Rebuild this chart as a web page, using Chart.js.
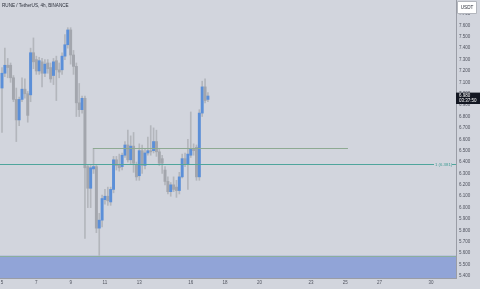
<!DOCTYPE html>
<html><head><meta charset="utf-8">
<script src="https://cdn.jsdelivr.net/npm/chart.js@4.4.1/dist/chart.umd.min.js"></script>
<style>html,body{margin:0;padding:0;background:#d2d5dd;overflow:hidden}#wrap{width:480px;height:289px;position:relative}</style>
</head><body><div id="wrap"><canvas id="c" width="480" height="289"></canvas></div>
<script>
// ---- data (RUNE / TetherUS, 4h candles starting on day 5) ----
const opens  = [7.05,7.18,7.25,7.25,7.14,6.95,6.77,6.95,7.04,7.00,6.99,7.36,7.30,7.20,7.28,7.18,7.27,7.23,7.16,7.29,7.21,7.21,7.33,7.43,7.56,7.34,7.24,6.92,6.86,6.96,6.36,6.17,6.34,6.36,5.82,5.89,6.07,6.10,6.05,6.16,6.42,6.38,6.36,6.46,6.55,6.42,6.54,6.38,6.28,6.50,6.37,6.48,6.50,6.50,6.58,6.49,6.43,6.33,6.23,6.14,6.20,6.18,6.15,6.27,6.43,6.38,6.46,6.52,6.53,6.27,6.83,7.06,6.95];
const highs  = [7.23,7.40,7.31,7.27,7.16,7.05,6.97,7.14,7.13,7.02,7.40,7.49,7.33,7.32,7.31,7.30,7.30,7.27,7.31,7.33,7.27,7.36,7.52,7.58,7.58,7.38,7.27,7.09,6.98,6.98,6.38,6.37,6.52,6.38,5.95,6.11,6.16,6.18,6.18,6.45,6.45,6.47,6.48,6.58,6.68,6.63,6.66,6.40,6.56,6.55,6.52,6.62,6.72,6.70,6.68,6.52,6.46,6.36,6.27,6.22,6.27,6.24,6.31,6.47,6.48,6.60,6.84,6.56,6.55,6.86,7.11,7.13,7.01];
const lows   = [6.66,7.15,7.14,7.10,6.93,6.58,6.72,6.93,6.96,6.75,6.93,7.22,7.17,7.17,7.06,7.15,7.18,7.10,7.08,6.94,7.14,7.17,7.30,7.40,7.26,7.17,6.80,6.80,6.83,5.73,6.00,6.00,6.30,5.78,5.58,5.83,6.03,6.02,6.02,6.13,6.33,6.32,6.33,6.44,6.40,6.38,6.31,6.24,6.24,6.30,6.34,6.46,6.46,6.48,6.45,6.37,6.30,6.20,6.12,6.10,6.14,6.09,6.12,6.26,6.36,6.16,6.44,6.46,6.24,6.24,6.80,6.92,6.93];
const closes = [7.18,7.25,7.23,7.14,6.95,6.77,6.95,7.04,7.00,6.81,7.36,7.28,7.20,7.29,7.18,7.26,7.22,7.13,7.28,7.21,7.19,7.33,7.43,7.56,7.34,7.24,6.92,6.86,6.96,6.35,6.17,6.35,6.36,5.82,5.89,6.08,6.10,6.06,6.16,6.42,6.37,6.35,6.46,6.55,6.42,6.54,6.39,6.27,6.50,6.37,6.48,6.50,6.49,6.58,6.49,6.39,6.39,6.23,6.14,6.20,6.16,6.15,6.27,6.43,6.38,6.47,6.52,6.50,6.27,6.83,7.06,6.94,6.98];
const firstDay = 5;
const candlesPerDay = 6;
const dayTicks = [5,7,9,11,13,16,18,20,23,25,27,30];
const priceTicks = [5.4,5.5,5.6,5.7,5.8,5.9,6.0,6.1,6.2,6.3,6.4,6.5,6.6,6.7,6.8,6.9,7.0,7.1,7.2,7.3,7.4,7.5,7.6,7.7];
const supportLevel = 6.381;
const resistanceLevel = 6.52;
const resistanceFrom = 10.30, resistanceTo = 25.16;
const zoneTop = 5.578;
const lastPrice = 6.980;
const countdown = '03:37:50';
const titleText = 'RUNE / TetherUS, 4h, BINANCE';
const currencyText = 'USDT';

const xMin = 4.8834, xMax = 31.457;
const yMin = 5.3822, yMax = 7.8229;

const xs = opens.map((_, i) => firstDay + i / candlesPerDay);
const up = opens.map((o, i) => closes[i] >= o);
const BLUE = '#5b8fd8', GRAY = '#a3a6ad', WICK = '#b3b6bc';

const overlay = {
  id: 'overlay',
  beforeDraw(c) {
    const ctx = c.ctx;
    ctx.save(); ctx.fillStyle = '#d2d5dd'; ctx.fillRect(0, 0, c.width, c.height); ctx.restore();
  },
  beforeDatasetsDraw(c) {
    const ctx = c.ctx, a = c.chartArea, y = c.scales.y;
    const t = y.getPixelForValue(zoneTop), b = y.getPixelForValue(yMin);
    ctx.save();
    ctx.fillStyle = '#91a4d7';
    ctx.fillRect(a.left, t, a.right - a.left, b - t);
    ctx.strokeStyle = '#8aae9e'; ctx.lineWidth = 1;
    ctx.beginPath(); ctx.moveTo(a.left, Math.round(t) + 0.5); ctx.lineTo(a.right, Math.round(t) + 0.5); ctx.stroke();
    ctx.restore();
  },
  afterDatasetsDraw(c) {
    const ctx = c.ctx, a = c.chartArea, x = c.scales.x, y = c.scales.y;
    ctx.save();
    const ry = Math.round(y.getPixelForValue(resistanceLevel)) + 0.5;
    ctx.strokeStyle = '#8eaa92'; ctx.lineWidth = 1;
    ctx.beginPath(); ctx.moveTo(x.getPixelForValue(resistanceFrom), ry); ctx.lineTo(x.getPixelForValue(resistanceTo), ry); ctx.stroke();
    const sy = Math.round(y.getPixelForValue(supportLevel)) + 0.5;
    ctx.strokeStyle = '#4fa59c';
    ctx.beginPath(); ctx.moveTo(a.left, sy); ctx.lineTo(434, sy); ctx.moveTo(452, sy); ctx.lineTo(a.right, sy); ctx.stroke();
    ctx.fillStyle = '#3f9c93'; ctx.font = '4.3px "Liberation Sans", Arial, sans-serif';
    ctx.textBaseline = 'middle'; ctx.textAlign = 'left';
    ctx.fillText('1 (' + supportLevel.toFixed(3) + ')', 435, sy);
    ctx.restore();
  },
  afterDraw(c) {
    const ctx = c.ctx, y = c.scales.y;
    ctx.save();
    ctx.fillStyle = '#2a2e39'; ctx.font = '4.6px "Liberation Sans", Arial, sans-serif';
    ctx.textBaseline = 'middle'; ctx.textAlign = 'left';
    ctx.fillText(titleText, 2, 6);
    ctx.fillStyle = '#ffffff'; ctx.strokeStyle = '#b3b6bd'; ctx.lineWidth = 1;
    ctx.beginPath(); ctx.rect(457.5, 1.5, 19, 12); ctx.fill(); ctx.stroke();
    ctx.fillStyle = '#2a2e39'; ctx.textAlign = 'center';
    ctx.fillText(currencyText, 467, 7.8);
    const py = y.getPixelForValue(lastPrice);
    ctx.fillStyle = '#131722';
    ctx.fillRect(456, py - 3.4, 24, 11.4);
    ctx.fillStyle = '#ffffff'; ctx.textAlign = 'left';
    ctx.font = '4.5px "Liberation Sans", Arial, sans-serif';
    ctx.fillText(lastPrice.toFixed(3), 459, py);
    ctx.fillText(countdown, 459, py + 5.2);
    ctx.restore();
  }
};

new Chart(document.getElementById('c'), {
  type: 'bar',
  data: {
    datasets: [
      {
        label: 'wick',
        data: xs.map((x, i) => ({ x, y: [lows[i], highs[i]] })),
        backgroundColor: WICK, barThickness: 1, grouped: false, order: 2
      },
      {
        label: 'body',
        data: xs.map((x, i) => ({ x, y: [opens[i], closes[i]] })),
        backgroundColor: up.map(u => u ? BLUE : GRAY), barThickness: 2.3, minBarLength: 1, grouped: false, order: 1
      }
    ]
  },
  options: {
    responsive: false, animation: false, devicePixelRatio: 1, events: [],
    layout: { padding: 0 },
    plugins: { legend: { display: false }, tooltip: { enabled: false }, title: { display: false } },
    scales: {
      x: {
        type: 'linear', min: xMin, max: xMax, offset: false,
        grid: { display: false, drawTicks: false, offset: false },
        border: { display: true, color: '#9a9da6', width: 1 },
        ticks: { color: '#50535e', font: { size: 4.5, family: '"Liberation Sans", Arial, sans-serif' }, padding: 2.5, maxRotation: 0, autoSkip: false, callback: v => String(v) },
        afterBuildTicks: s => { s.ticks = dayTicks.map(v => ({ value: v })); },
        afterFit: s => { s.height = 11; s.paddingLeft = 0; s.paddingRight = 0; s.paddingTop = 0; s.paddingBottom = 0; }
      },
      y: {
        position: 'right', min: yMin, max: yMax,
        grid: { display: false, drawTicks: false },
        border: { display: true, color: '#9a9da6', width: 1 },
        ticks: { color: '#50535e', font: { size: 4.5, family: '"Liberation Sans", Arial, sans-serif' }, padding: 3, autoSkip: false, callback: v => Number(v).toFixed(3) },
        afterBuildTicks: s => { s.ticks = priceTicks.map(v => ({ value: v })); },
        afterFit: s => { s.width = 24; s.paddingTop = 0; s.paddingBottom = 0; s.paddingLeft = 0; s.paddingRight = 0; }
      }
    }
  },
  plugins: [overlay]
});
</script></body></html>
